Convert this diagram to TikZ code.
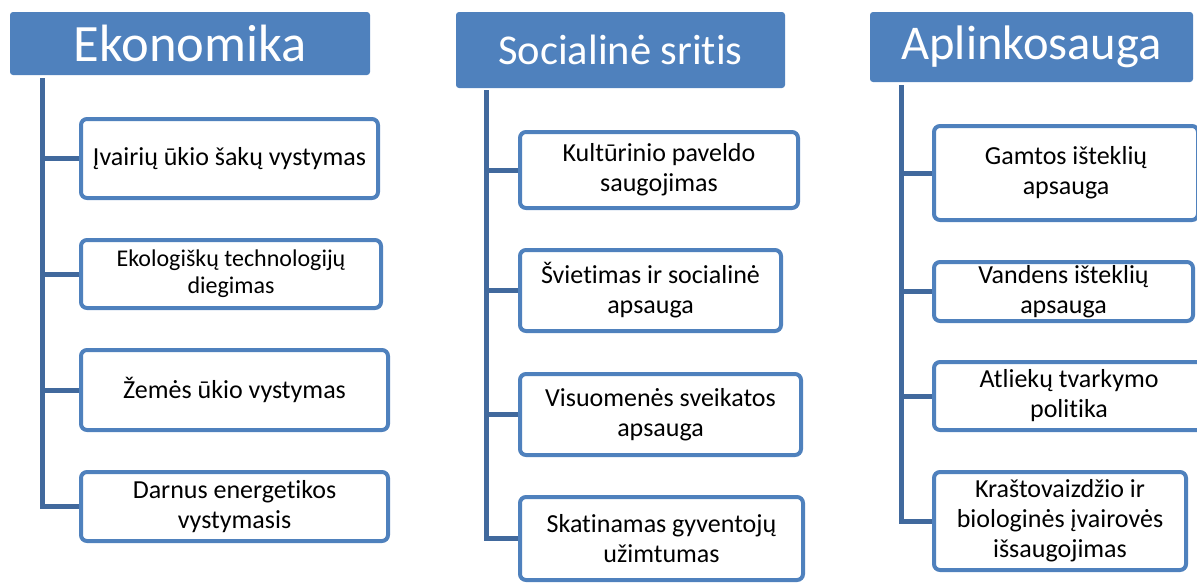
\documentclass[tikz,border=0pt]{standalone}
\usepackage{fontspec}
\setmainfont{Carlito}[Ligatures=NoCommon]
\usepackage{tikz}

\definecolor{headblue}{HTML}{4F81BD}
\definecolor{trunkblue}{HTML}{41699D}

\begin{document}
\begin{tikzpicture}
	[x=1pt,y=-1pt,
	head/.style={rectangle,fill=headblue,rounded corners=3pt,text=white,inner sep=0pt},
	item/.style={rectangle,draw=headblue,line width=4pt,fill=white,rounded corners=6pt,
		align=center,inner sep=0pt,font=\fontsize{26}{30}\selectfont},
	trunk/.style={draw=trunkblue,line width=5pt}]
	\useasboundingbox (0,0) rectangle (1197,587);

	% headers
	\node[head,minimum width=360pt,minimum height=63pt,font=\fontsize{52.5}{60}\selectfont]
		(ekon) at (190,43.5) {Ekonomika};
	\node[head,minimum width=329pt,minimum height=76pt,font=\fontsize{42.5}{48}\selectfont]
		(soc) at (620.5,50) {Socialinė sritis};
	\node[head,minimum width=323pt,minimum height=70pt,font=\fontsize{48.5}{55}\selectfont]
		(apl) at (1031.5,47) {Aplinkosauga};

	% Ekonomika
	\node[item,minimum width=297pt,minimum height=79pt] (ek1) at (229.5,158.5) {Įvairių ūkio šakų vystymas};
	\node[item,minimum width=300pt,minimum height=68pt,font=\fontsize{24}{27}\selectfont]
		(ek2) at (231,274) {Ekologiškų technologijų\\diegimas};
	\node[item,minimum width=307pt,minimum height=80pt] (ek3) at (234.5,390) {Žemės ūkio vystymas};
	\node[item,minimum width=307pt,minimum height=69pt] (ek4) at (234.5,506.5) {Darnus energetikos\\vystymasis};

	% Socialine sritis
	\node[item,minimum width=278pt,minimum height=76pt] (so1) at (659,170) {Kultūrinio paveldo\\saugojimas};
	\node[item,minimum width=261pt,minimum height=81pt] (so2) at (650.5,290.5) {Švietimas ir socialinė\\apsauga};
	\node[item,minimum width=281pt,minimum height=81pt] (so3) at (660.5,414.5) {Visuomenės sveikatos\\apsauga};
	\node[item,minimum width=283pt,minimum height=83pt] (so4) at (661.5,538.5) {Skatinamas gyventojų\\užimtumas};

	% Aplinkosauga
	\node[item,minimum width=264pt,minimum height=94pt] (ap1) at (1066,173) {Gamtos išteklių\\apsauga};
	\node[item,minimum width=259pt,minimum height=59pt] (ap2) at (1063.5,291.5) {Vandens išteklių\\apsauga};
	\node[item,minimum width=270pt,minimum height=68pt] (ap3) at (1069,396) {Atliekų tvarkymo\\politika};
	\node[item,minimum width=252pt,minimum height=98pt] (ap4) at (1060,521) {Kraštovaizdžio ir\\biologinės įvairovės\\išsaugojimas};

	% trunks and branches
	\coordinate (ektop) at ([xshift=33pt,yshift=-3pt]ekon.south west);
	\coordinate (sotop) at ([xshift=31pt,yshift=-2pt]soc.south west);
	\coordinate (aptop) at ([xshift=32pt,yshift=-3pt]apl.south west);
	\draw[trunk] (ektop) |- (ek4.west);
	\draw[trunk] (sotop) |- (so4.west);
	\draw[trunk] (aptop) |- (ap4.west);
	\foreach \n in {1,2,3}{
		\draw[trunk] (ektop |- ek\n.west) -- (ek\n.west);
		\draw[trunk] (sotop |- so\n.west) -- (so\n.west);
		\draw[trunk] (aptop |- ap\n.west) -- (ap\n.west);
	}
\end{tikzpicture}
\end{document}
